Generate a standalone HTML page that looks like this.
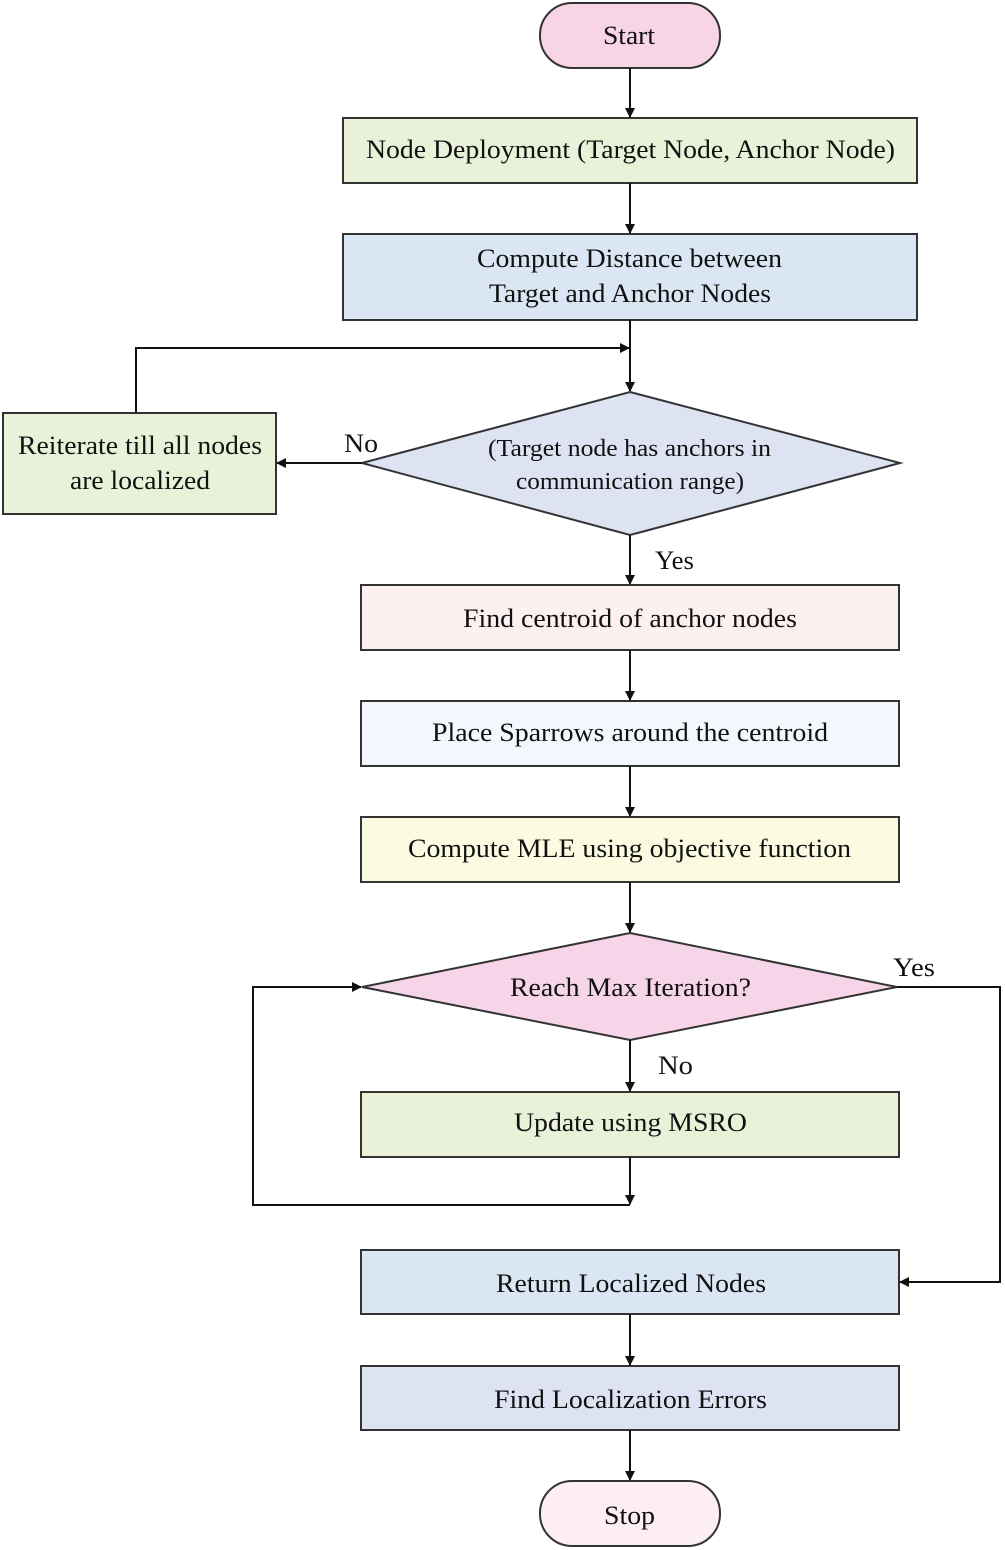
<!DOCTYPE html>
<html><head><meta charset="utf-8"><style>
html,body{margin:0;padding:0;background:#fff;}
svg{display:block;}
text{font-family:"Liberation Serif",serif;fill:#111;}
</style></head><body>
<svg width="1005" height="1550" viewBox="0 0 1005 1550" xmlns="http://www.w3.org/2000/svg">
<defs><marker id="a" markerWidth="10" markerHeight="10" refX="9" refY="5" orient="auto" markerUnits="userSpaceOnUse"><path d="M0,0 L10,5 L0,10 Z" fill="#111"/></marker></defs>
<g stroke="#333" stroke-width="2">
<rect x="540" y="3" width="180" height="65" rx="32" fill="#f7d5e6"/>
<rect x="343" y="118" width="574" height="65" fill="#e9f2d9"/>
<rect x="343" y="234" width="574" height="86" fill="#dae6f4"/>
<polygon points="630,392 900,463 630,535 362,463" fill="#dde3f3"/>
<rect x="3" y="413" width="273" height="101" fill="#e9f2d9"/>
<rect x="361" y="585" width="538" height="65" fill="#fdf0f0"/>
<rect x="361" y="701" width="538" height="65" fill="#f2f8fd"/>
<rect x="361" y="817" width="538" height="65" fill="#fafbe0"/>
<polygon points="630,933 897,987 630,1040 362,987" fill="#f5d5e7"/>
<rect x="361" y="1092" width="538" height="65" fill="#e9f2d9"/>
<rect x="361" y="1250" width="538" height="64" fill="#dae6f4"/>
<rect x="361" y="1366" width="538" height="64" fill="#dde3f3"/>
<rect x="540" y="1481" width="180" height="65" rx="32" fill="#fdeef2"/>
</g>
<g stroke="#111" stroke-width="2" fill="none" marker-end="url(#a)">
<line x1="630" y1="68" x2="630" y2="117"/>
<line x1="630" y1="183" x2="630" y2="233"/>
<line x1="630" y1="320" x2="630" y2="391"/>
<polyline points="136,413 136,348 629,348"/>
<line x1="362" y1="463" x2="277" y2="463"/>
<line x1="630" y1="535" x2="630" y2="584"/>
<line x1="630" y1="650" x2="630" y2="700"/>
<line x1="630" y1="766" x2="630" y2="816"/>
<line x1="630" y1="882" x2="630" y2="932"/>
<polyline points="897,987 1000,987 1000,1282 900,1282"/>
<line x1="630" y1="1040" x2="630" y2="1091"/>
<line x1="630" y1="1157" x2="630" y2="1204"/>
<polyline points="630,1205 253,1205 253,987 361,987"/>
<line x1="630" y1="1314" x2="630" y2="1365"/>
<line x1="630" y1="1430" x2="630" y2="1480"/>
</g>
<g font-size="26">
<text x="603" y="44" textLength="52" lengthAdjust="spacingAndGlyphs">Start</text>
<text x="366" y="158" textLength="529" lengthAdjust="spacingAndGlyphs">Node Deployment (Target Node, Anchor Node)</text>
<text x="477" y="267" textLength="305" lengthAdjust="spacingAndGlyphs">Compute Distance between</text>
<text x="489" y="302" textLength="282" lengthAdjust="spacingAndGlyphs">Target and Anchor Nodes</text>
<text x="488" y="456" font-size="24" textLength="283" lengthAdjust="spacingAndGlyphs">(Target node has anchors in</text>
<text x="516" y="489" font-size="24" textLength="228" lengthAdjust="spacingAndGlyphs">communication range)</text>
<text x="18" y="454" textLength="244" lengthAdjust="spacingAndGlyphs">Reiterate till all nodes</text>
<text x="70" y="489" textLength="140" lengthAdjust="spacingAndGlyphs">are localized</text>
<text x="344" y="452" textLength="34" lengthAdjust="spacingAndGlyphs">No</text>
<text x="655" y="569" textLength="39" lengthAdjust="spacingAndGlyphs">Yes</text>
<text x="463" y="627" textLength="334" lengthAdjust="spacingAndGlyphs">Find centroid of anchor nodes</text>
<text x="432" y="741" textLength="396" lengthAdjust="spacingAndGlyphs">Place Sparrows around the centroid</text>
<text x="408" y="857" textLength="443" lengthAdjust="spacingAndGlyphs">Compute MLE using objective function</text>
<text x="510" y="996" textLength="241" lengthAdjust="spacingAndGlyphs">Reach Max Iteration?</text>
<text x="893" y="976" textLength="42" lengthAdjust="spacingAndGlyphs">Yes</text>
<text x="658" y="1074" textLength="35" lengthAdjust="spacingAndGlyphs">No</text>
<text x="514" y="1131" textLength="233" lengthAdjust="spacingAndGlyphs">Update using MSRO</text>
<text x="496" y="1292" textLength="270" lengthAdjust="spacingAndGlyphs">Return Localized Nodes</text>
<text x="494" y="1408" textLength="273" lengthAdjust="spacingAndGlyphs">Find Localization Errors</text>
<text x="604" y="1524" textLength="51" lengthAdjust="spacingAndGlyphs">Stop</text>
</g>
</svg>
</body></html>
